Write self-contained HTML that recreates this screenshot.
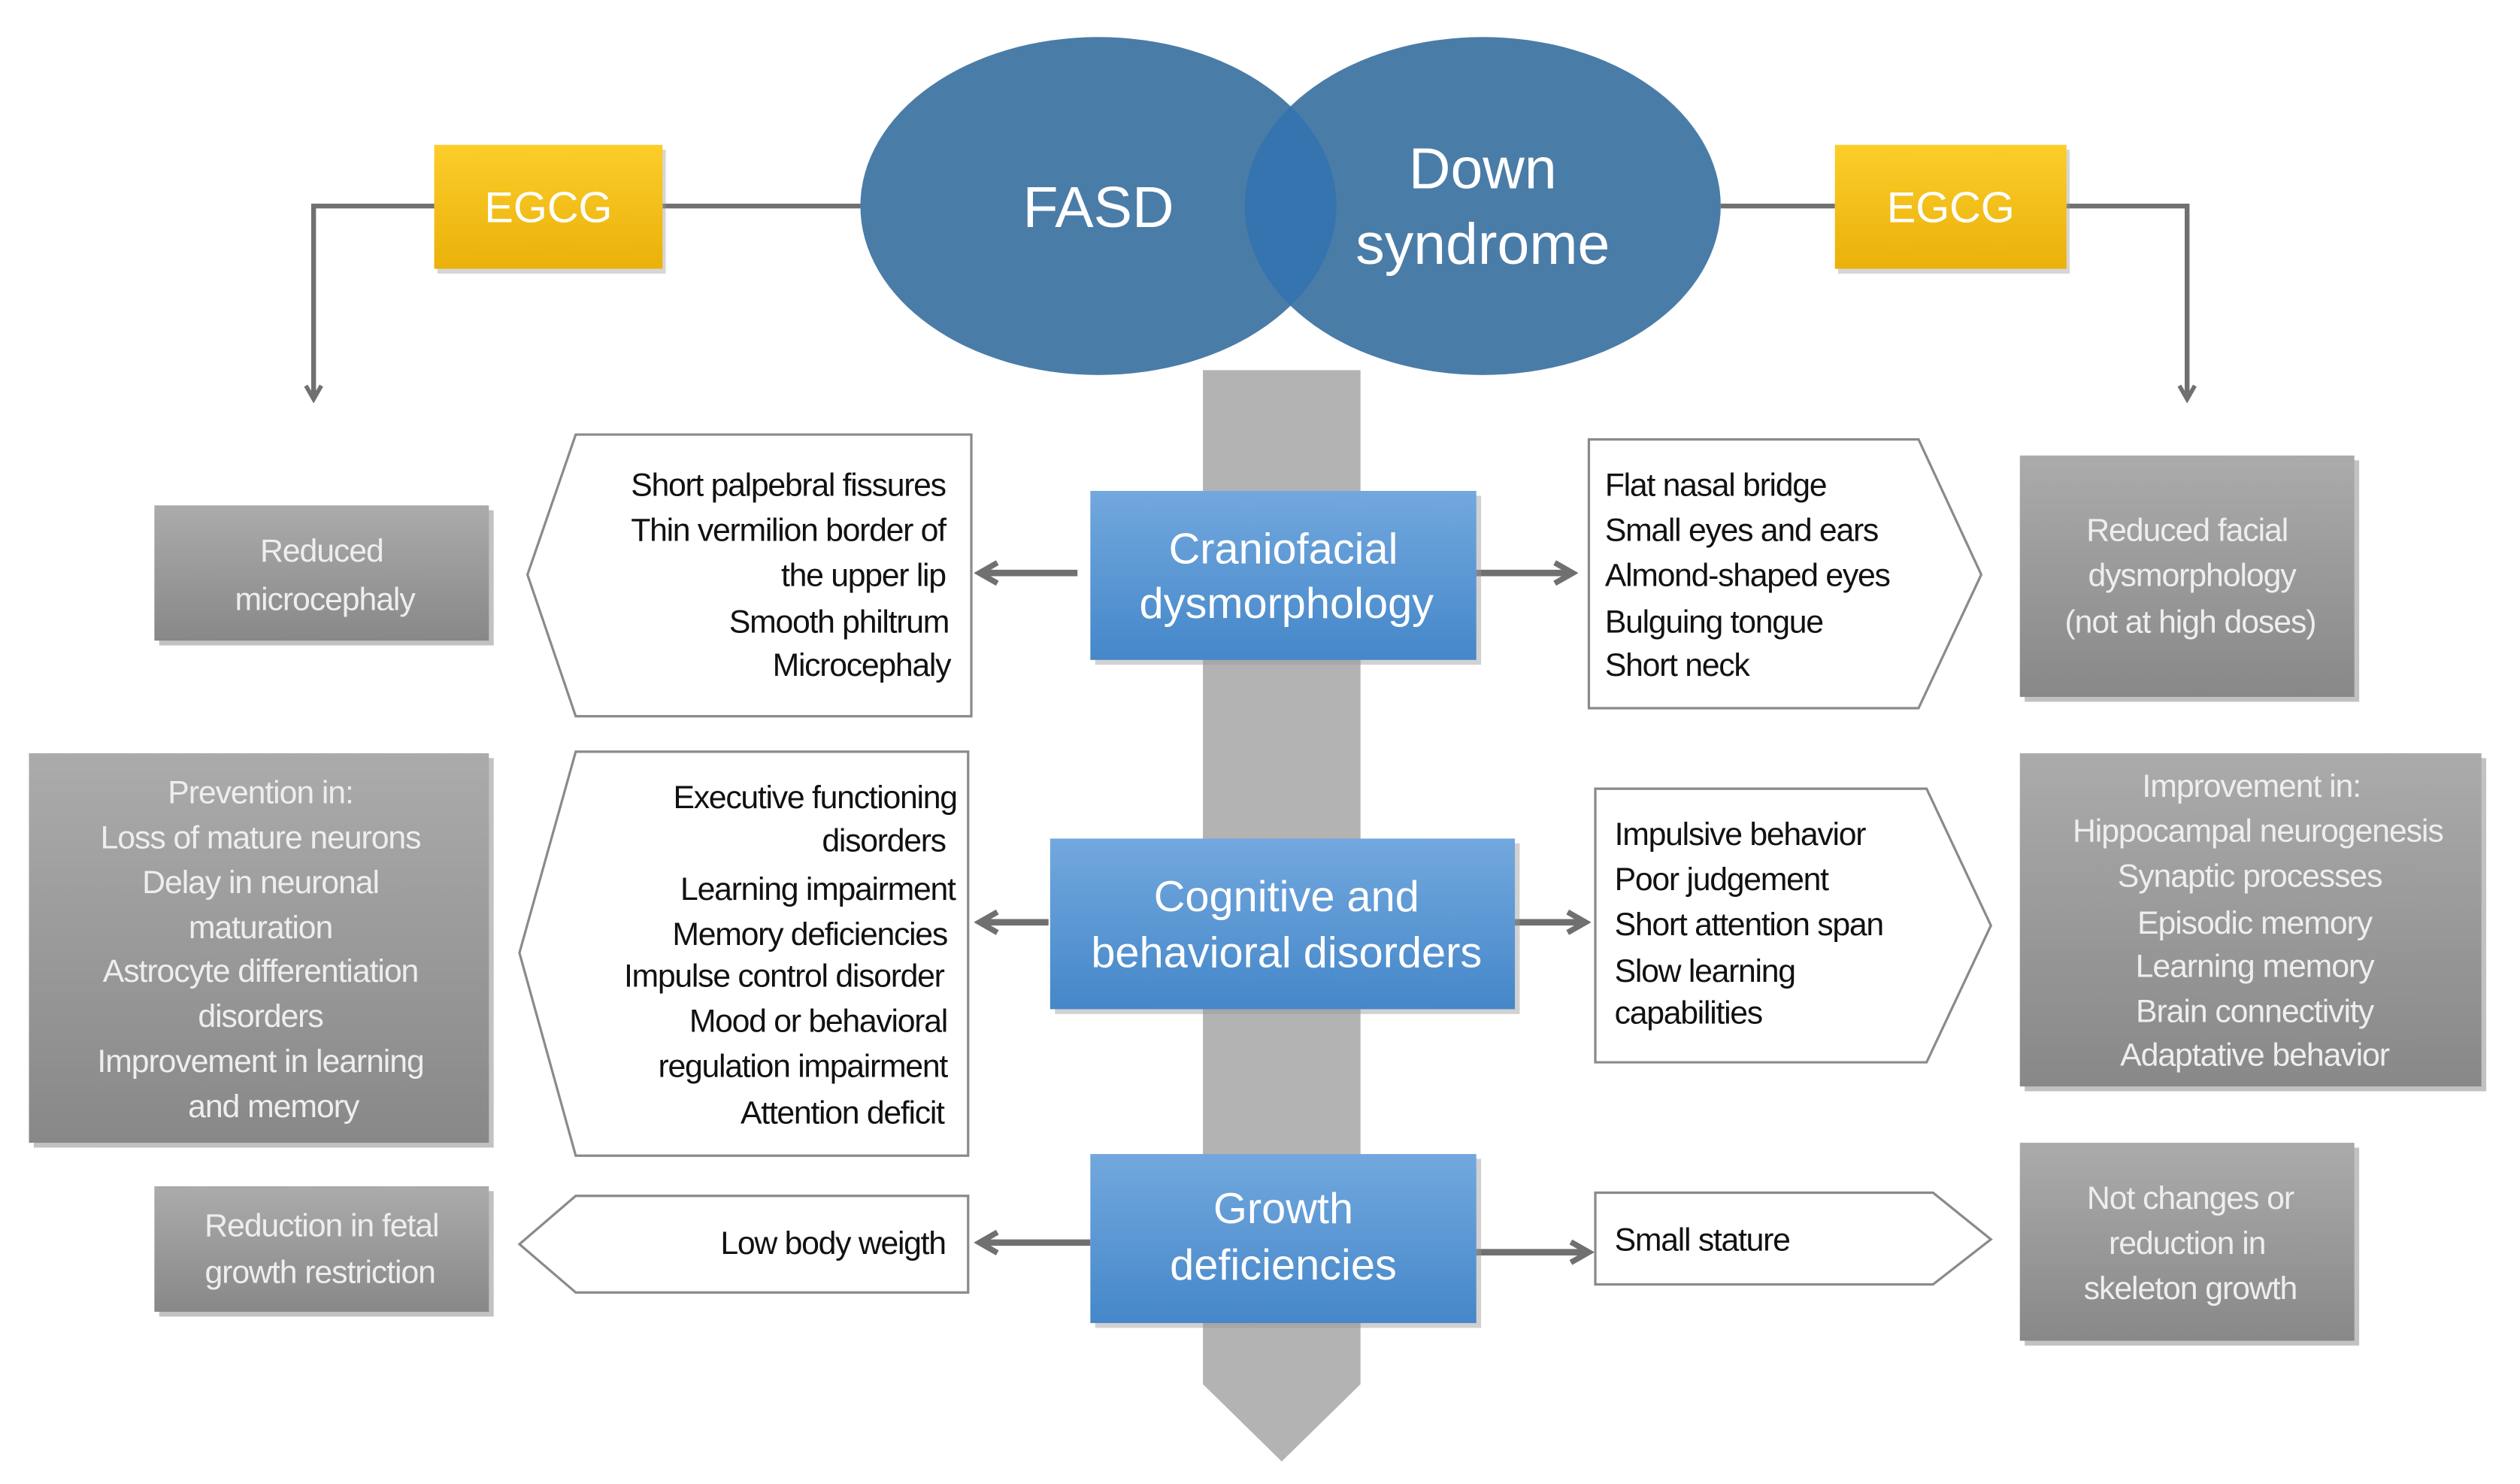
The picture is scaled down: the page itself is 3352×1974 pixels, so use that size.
<!DOCTYPE html>
<html><head><meta charset="utf-8"><style>
html,body{margin:0;padding:0;background:#fff;}
svg{display:block;}
text{font-family:"Liberation Sans",sans-serif;}
</style></head><body>
<svg width="3352" height="1974" viewBox="0 0 1567 922" preserveAspectRatio="none" xmlns="http://www.w3.org/2000/svg">
<defs>
<linearGradient id="yel" x1="0" y1="0" x2="0" y2="1"><stop offset="0" stop-color="#fccd2a"/><stop offset="1" stop-color="#eab10a"/></linearGradient>
<linearGradient id="blu" x1="0" y1="0" x2="0" y2="1"><stop offset="0" stop-color="#72a8de"/><stop offset="1" stop-color="#4587c9"/></linearGradient>
<linearGradient id="gry" x1="0" y1="0" x2="0" y2="1"><stop offset="0" stop-color="#ababab"/><stop offset="1" stop-color="#888888"/></linearGradient>
<marker id="ah" viewBox="0 0 10 10" refX="8" refY="5" markerWidth="4" markerHeight="4" orient="auto"><path d="M1,1 L8,5 L1,9" fill="none" stroke="#707070" stroke-width="2.2"/></marker>
</defs>
<path d="M748,230 H846 V860 L797,908 L748,860 Z" fill="#b3b3b3"/>
<g stroke="#707070" stroke-width="3" fill="none">
<path d="M535,128 H412"/><path d="M270,128 H195 V248" marker-end="url(#ah)"/>
<path d="M1070,128 H1141"/><path d="M1285,128 H1360 V248" marker-end="url(#ah)"/>
</g>
<ellipse cx="683" cy="128" rx="148" ry="105" fill="#4a7ca8"/>
<ellipse cx="922" cy="128" rx="148" ry="105" fill="#4a7ca8"/>
<clipPath id="cc"><ellipse cx="683" cy="128" rx="148" ry="105"/></clipPath>
<ellipse cx="922" cy="128" rx="148" ry="105" fill="#3574ae" clip-path="url(#cc)"/>
<text x="683" y="141" fill="#fff" font-size="36" text-anchor="middle">FASD</text>
<text x="922" y="117" fill="#fff" font-size="36" text-anchor="middle">Down</text>
<text x="922" y="164" fill="#fff" font-size="36" text-anchor="middle">syndrome</text>
<rect x="272" y="93" width="142" height="77" fill="#999" opacity="0.4"/>
<rect x="270" y="90" width="142" height="77" fill="url(#yel)"/>
<rect x="1143" y="93" width="144" height="77" fill="#999" opacity="0.4"/>
<rect x="1141" y="90" width="144" height="77" fill="url(#yel)"/>
<text x="341" y="138" fill="#fff" font-size="27" text-anchor="middle">EGCG</text>
<text x="1213" y="138" fill="#fff" font-size="27" text-anchor="middle">EGCG</text>
<g stroke="#707070" stroke-width="4" fill="none" marker-end="url(#ah)">
<path d="M670,356 H609"/><path d="M918,356 H978"/>
<path d="M652,573 H609"/><path d="M942,573 H986"/>
<path d="M678,772 H609"/><path d="M918,778 H988"/>
</g>
<rect x="681" y="308" width="240" height="105" fill="#999" opacity="0.45"/>
<rect x="678" y="305" width="240" height="105" fill="url(#blu)"/>
<rect x="656" y="524" width="289" height="106" fill="#999" opacity="0.45"/>
<rect x="653" y="521" width="289" height="106" fill="url(#blu)"/>
<rect x="681" y="720" width="240" height="105" fill="#999" opacity="0.45"/>
<rect x="678" y="717" width="240" height="105" fill="url(#blu)"/>
<g fill="#fff" font-size="27" text-anchor="middle">
<text x="798" y="350">Craniofacial</text><text x="800" y="384">dysmorphology</text>
<text x="800" y="566">Cognitive and</text><text x="800" y="601">behavioral disorders</text>
<text x="798" y="760">Growth</text><text x="798" y="795">deficiencies</text>
</g>
<g fill="#fff" stroke="#8a8a8a" stroke-width="1.5">
<path d="M358,270 H604 V445 H358 L328,357 Z"/>
<path d="M358,467 H602 V718 H358 L323,592 Z"/>
<path d="M358,743 H602 V803 H358 L323,773 Z"/>
<path d="M988,273 H1193 L1232,357 L1193,440 H988 Z"/>
<path d="M992,490 H1198 L1238,575 L1198,660 H992 Z"/>
<path d="M992,741 H1202 L1238,770 L1202,798 H992 Z"/>
</g>
<g fill="#111" font-size="20" text-anchor="end" letter-spacing="-0.6">
<text x="588" y="308">Short palpebral fissures</text>
<text x="588" y="336">Thin vermilion border of</text>
<text x="588" y="364">the upper lip</text>
<text x="590" y="393">Smooth philtrum</text>
<text x="591" y="420">Microcephaly</text>
<text x="595" y="502">Executive functioning</text>
<text x="588" y="529">disorders</text>
<text x="594" y="559">Learning impairment</text>
<text x="589" y="587">Memory deficiencies</text>
<text x="587" y="613">Impulse control disorder</text>
<text x="589" y="641">Mood or behavioral</text>
<text x="589" y="669">regulation impairment</text>
<text x="587" y="698">Attention deficit</text>
<text x="588" y="779">Low body weigth</text>
</g>
<g fill="#111" font-size="20" letter-spacing="-0.6">
<text x="998" y="308">Flat nasal bridge</text>
<text x="998" y="336">Small eyes and ears</text>
<text x="998" y="364">Almond-shaped eyes</text>
<text x="998" y="393">Bulguing tongue</text>
<text x="998" y="420">Short neck</text>
<text x="1004" y="525">Impulsive behavior</text>
<text x="1004" y="553">Poor judgement</text>
<text x="1004" y="581">Short attention span</text>
<text x="1004" y="610">Slow learning</text>
<text x="1004" y="636">capabilities</text>
<text x="1004" y="777">Small stature</text>
</g>
<g fill="#777" opacity="0.45">
<rect x="99" y="317" width="208" height="84"/><rect x="21" y="471" width="286" height="242"/><rect x="99" y="740" width="208" height="78"/>
<rect x="1259" y="286" width="208" height="150"/><rect x="1259" y="471" width="287" height="207"/><rect x="1259" y="713" width="208" height="123"/>
</g>
<g fill="url(#gry)">
<rect x="96" y="314" width="208" height="84"/><rect x="18" y="468" width="286" height="242"/><rect x="96" y="737" width="208" height="78"/>
<rect x="1256" y="283" width="208" height="150"/><rect x="1256" y="468" width="287" height="207"/><rect x="1256" y="710" width="208" height="123"/>
</g>
<g fill="#eeeeee" font-size="20" text-anchor="middle" letter-spacing="-0.5">
<text x="200" y="349">Reduced</text><text x="202" y="379">microcephaly</text>
<text x="162" y="499">Prevention in:</text>
<text x="162" y="527">Loss of mature neurons</text>
<text x="162" y="555">Delay in neuronal</text>
<text x="162" y="583">maturation</text>
<text x="162" y="610">Astrocyte differentiation</text>
<text x="162" y="638">disorders</text>
<text x="162" y="666">Improvement in learning</text>
<text x="170" y="694">and    memory</text>
<text x="200" y="768">Reduction in fetal</text><text x="199" y="797">growth restriction</text>
<text x="1360" y="336">Reduced facial</text><text x="1363" y="364">dysmorphology</text><text x="1362" y="393">(not at high doses)</text>
<text x="1400" y="495">Improvement in:</text>
<text x="1404" y="523">Hippocampal neurogenesis</text>
<text x="1399" y="551">Synaptic processes</text>
<text x="1402" y="580">Episodic memory</text>
<text x="1402" y="607">Learning memory</text>
<text x="1402" y="635">Brain connectivity</text>
<text x="1402" y="662">Adaptative behavior</text>
<text x="1362" y="751">Not changes or</text><text x="1360" y="779">reduction in</text><text x="1362" y="807">skeleton growth</text>
</g>
</svg>
</body></html>
